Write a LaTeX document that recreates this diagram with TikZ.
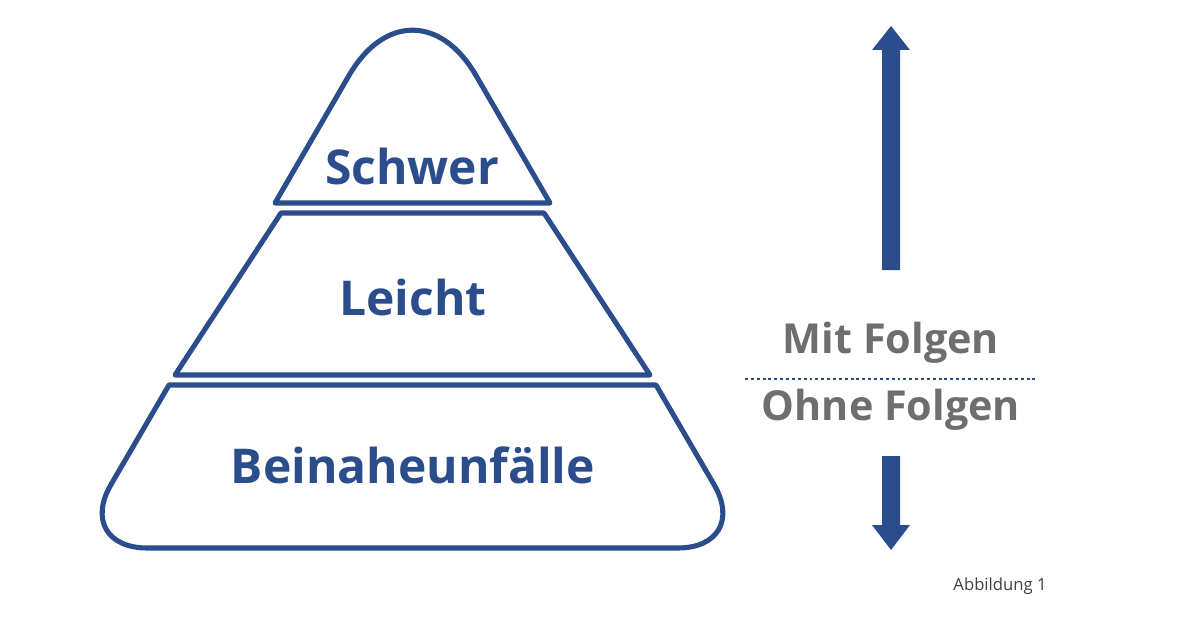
\documentclass[tikz,border=0pt]{standalone}
\usepackage{fontspec}
\setmainfont{Open Sans}
\definecolor{pblue}{HTML}{2B4D8C}
\definecolor{tgray}{HTML}{6E6E70}
\begin{document}
\begin{tikzpicture}[x=0.75pt,y=-0.75pt,
  layer/.style={draw=pblue,line width=3.8pt,line join=round},
  lbl/.style={text=pblue,font=\bfseries\fontsize{36}{40}\selectfont},
  glbl/.style={text=tgray,font=\bfseries\fontsize{31}{36}\selectfont},
  arr/.style={fill=pblue,draw=none}]
\useasboundingbox (0,0) rectangle (1201,617);
% top triangle
\draw[layer] (275,203) -- (550,203) [rounded corners=95] -- (412.5,-34) [sharp corners] -- cycle;
% middle
\draw[layer] (281,213) -- (544,213) -- (650,375) -- (175,375) -- cycle;
% bottom
\draw[layer] (169,385) -- (656,385) [rounded corners=55] -- (751,548) -- (74,548) [sharp corners] -- cycle;
\node[lbl] (s) at (412,166) {Schwer};
\node[lbl] (l) at (413,297) {Leicht};
\node[lbl] (b) at (413,465) {Beinaheunfälle};
\node[glbl] (m) at (891,343) {Mit Folgen};
\node[glbl] (o) at (891,410) {Ohne Folgen};
\coordinate (dl) at (745,379);
\coordinate (dr) at (1037,379);
\draw[pblue,line width=1.6pt,dash pattern=on 2.2pt off 2.2pt] (dl) -- (dr);
\fill[arr] (882,270) -- (900,270) -- (900,50) -- (910,50) -- (891,26) -- (872,50) -- (882,50) -- cycle;
\fill[arr] (882,456) -- (900,456) -- (900,525) -- (910,525) -- (891,550) -- (872,525) -- (882,525) -- cycle;
\node[text=black!75,font=\fontsize{12.5}{14}\selectfont] (a) at (1000,586) {Abbildung 1};
\end{tikzpicture}
\end{document}
